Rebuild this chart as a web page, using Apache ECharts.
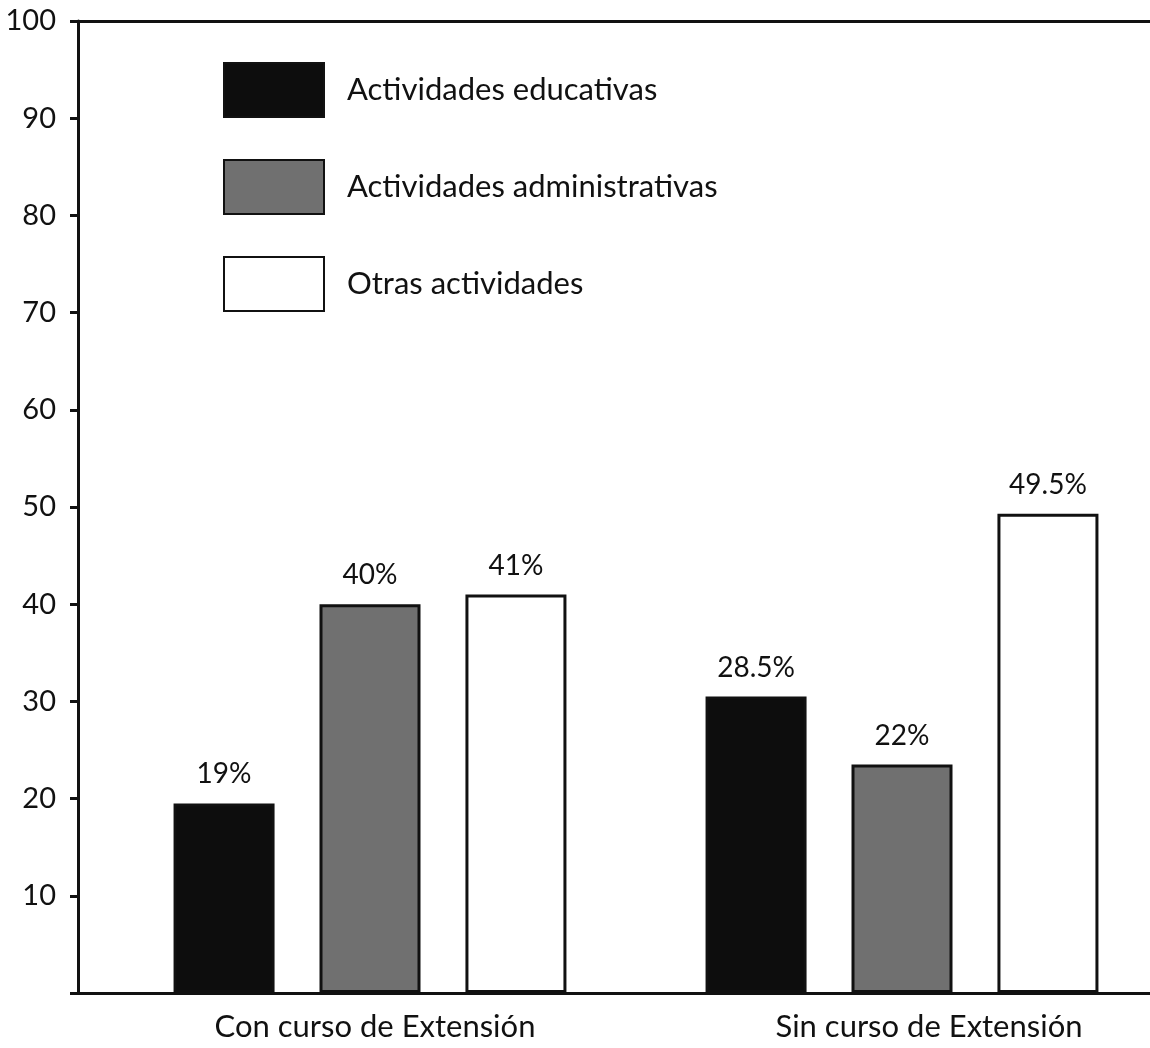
<!DOCTYPE html>
<html>
<head>
<meta charset="utf-8">
<script src="https://cdn.jsdelivr.net/npm/echarts@6/dist/echarts.min.js"></script>
<style>
  html, body { margin: 0; padding: 0; background: #fff; }
  #mycharts { width: 1150px; height: 1048px; }
</style>
</head>
<body>
<div id="mycharts"></div>
<script>
// categories and series (bar heights as drawn, labels as printed)
const categories = ['Con curso de Extensión', 'Sin curso de Extensión'];
const seriesNames = ['Actividades educativas', 'Actividades administrativas', 'Otras actividades'];
const educativas = [19.5, 30.5];
const administrativas = [40, 23.5];
const otras = [41, 49.3];
const educativasLabels = ['19%', '28.5%'];
const administrativasLabels = ['40%', '22%'];
const otrasLabels = ['41%', '49.5%'];
const yTicks = [10, 20, 30, 40, 50, 60, 70, 80, 90, 100];

const FONT = 'Lato, "DejaVu Sans", sans-serif';
const INK = '#111';

const chart = echarts.init(document.getElementById('mycharts'));

const barSeries = (name, values, labels, color) => ({
    name: name,
    type: 'bar',
    xAxisIndex: 2,
    yAxisIndex: 1,
    data: values,
    barWidth: 101,
    barGap: '44.5%',
    itemStyle: {
        color: color,
        borderColor: INK,
        borderWidth: 3
    },
    label: {
        show: true,
        position: 'top',
        distance: 15,
        fontFamily: FONT,
        fontSize: 28,
        color: INK,
        formatter: function (p) {
            return labels[p.dataIndex];
        }
    },
    silent: true
});

chart.setOption({
    backgroundColor: '#fff',
    animation: false,
    legend: {
        orient: 'vertical',
        left: 218,
        top: 57,
        itemWidth: 100,
        itemHeight: 54,
        itemGap: 41,
        icon: 'rect',
        selectedMode: false,
        data: seriesNames,
        textStyle: {
            fontFamily: FONT,
            fontSize: 31,
            color: INK,
            padding: [0, 0, 0, 18]
        }
    },
    grid: [
        {left: 78, right: 0, top: 21, bottom: 55},
        {left: 104, width: 1064, top: 21, bottom: 55, outerBoundsMode: 'none'},
        {left: 98, width: 1108, top: 21, bottom: 55, outerBoundsMode: 'none'}
    ],
    xAxis: [
        {
            type: 'category', gridIndex: 0, data: categories,
            axisLine: {lineStyle: {color: INK, width: 3}},
            axisTick: {show: false}, axisLabel: {show: false}
        },
        {
            type: 'category', gridIndex: 0, position: 'top', data: categories,
            axisLine: {lineStyle: {color: INK, width: 3}},
            axisTick: {show: false}, axisLabel: {show: false}
        },
        {
            type: 'category', gridIndex: 1, data: categories, show: false
        },
        {
            type: 'category', gridIndex: 2, data: categories,
            axisLine: {show: false}, axisTick: {show: false},
            axisLabel: {
                fontFamily: FONT, fontSize: 31, color: INK, margin: 18
            }
        }
    ],
    yAxis: [
        {
            type: 'value', gridIndex: 0, min: 0, max: 100, interval: 10,
            splitLine: {show: false},
            axisLine: {show: true, lineStyle: {color: INK, width: 3}},
            axisTick: {show: true, length: 8, lineStyle: {color: INK, width: 3}},
            axisLabel: {
                fontFamily: FONT, fontSize: 29, color: INK, margin: 22,
                formatter: function (v) {
                    return yTicks.indexOf(v) >= 0 ? String(v) : '';
                }
            }
        },
        {type: 'value', gridIndex: 1, min: 0, max: 100, show: false},
        {type: 'value', gridIndex: 2, min: 0, max: 100, show: false}
    ],
    series: [
        barSeries(seriesNames[0], educativas, educativasLabels, '#0d0d0d'),
        barSeries(seriesNames[1], administrativas, administrativasLabels, '#707070'),
        barSeries(seriesNames[2], otras, otrasLabels, '#ffffff')
    ]
});
</script>
</body>
</html>
